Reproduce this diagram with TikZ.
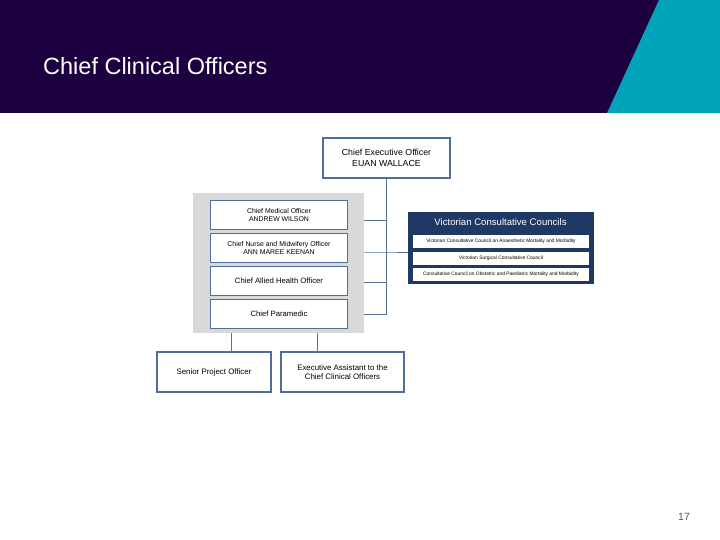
\documentclass[tikz,border=0pt]{standalone}
\usepackage{fontspec}
\setmainfont{Liberation Sans}
\definecolor{bandpurple}{HTML}{1C0040}
\definecolor{bandteal}{HTML}{00A3BA}
\definecolor{boxedge}{HTML}{4F6E98}
\definecolor{panelgray}{HTML}{D9D9D9}
\definecolor{navy}{HTML}{1F3864}
\definecolor{linegray}{HTML}{5A7290}
\begin{document}
\begin{tikzpicture}[x=1pt,y=-1pt,
  orgbox/.style={draw=boxedge,line width=1.6pt,fill=white,align=center,inner sep=0pt},
  councilbox/.style={draw=navy,line width=0.8pt,fill=white,inner sep=0pt,align=center,font=\fontsize{4.9}{5.5}\selectfont},
  link/.style={draw=linegray,line width=0.8pt}]
\useasboundingbox (0,0) rectangle (720,540);
\fill[white] (0,0) rectangle (720,540);
% header band
\fill[bandpurple] (0,0) rectangle (720,113);
\fill[bandteal] (659,0) -- (720,0) -- (720,113) -- (607,113) -- cycle;
\node[anchor=west,text=white,font=\fontsize{23.5}{28}\selectfont,inner sep=0pt] (title) at (43,66) {Chief Clinical Officers};
% CEO
\node[orgbox,minimum width=127pt,minimum height=40pt,font=\fontsize{8.8}{10.5}\selectfont] (ceo) at (386.5,158) {Chief Executive Officer\\EUAN WALLACE};
% gray panel
\node[fill=panelgray,minimum width=171pt,minimum height=140pt,inner sep=0pt] (panel) at (278.5,263) {};
\node[orgbox,minimum width=137pt,minimum height=29pt,font=\fontsize{6.9}{8}\selectfont] (cmo) at (279,215) {Chief Medical Officer\\ANDREW WILSON};
\node[orgbox,minimum width=137pt,minimum height=29pt,font=\fontsize{6.9}{8}\selectfont] (cnmo) at (279,248) {Chief Nurse and Midwifery Officer\\ANN MAREE KEENAN};
\node[orgbox,minimum width=137pt,minimum height=29pt,font=\fontsize{7.7}{9}\selectfont] (caho) at (279,281) {Chief Allied Health Officer};
\node[orgbox,minimum width=137pt,minimum height=29pt,font=\fontsize{7.7}{9}\selectfont] (cp) at (279,314) {Chief Paramedic};
% council box
\node[fill=navy,draw=navy,minimum width=185pt,minimum height=71pt,inner sep=0pt] (vcc) at (500.5,248) {};
\node[text=white,font=\fontsize{9.6}{11}\selectfont,inner sep=0pt] (vcchead) at (500.5,222) {Victorian Consultative Councils};
\node[councilbox,minimum width=177pt,minimum height=14pt] (c1) at (501,241) {Victorian Consultative Council on Anaesthetic Mortality and Morbidity};
\node[councilbox,minimum width=177pt,minimum height=14pt] (c2) at (501,258) {Victorian Surgical Consultative Council};
\node[councilbox,minimum width=177pt,minimum height=14pt] (c3) at (501,274.5) {Consultative Council on Obstetric and Paediatric Mortality and Morbidity};
% bottom boxes
\node[orgbox,minimum width=114pt,minimum height=40pt,font=\fontsize{7.9}{9.5}\selectfont] (spo) at (214,372) {Senior Project Officer};
\node[orgbox,minimum width=123pt,minimum height=40pt,font=\fontsize{7.9}{9.5}\selectfont] (ea) at (342.5,372) {Executive Assistant to the\\Chief Clinical Officers};
% page number
\node[text=black!65,font=\fontsize{10.5}{12}\selectfont,inner sep=0pt] (pagenum) at (684,517) {17};
% connectors
\coordinate (j1) at (386.5,220);
\coordinate (j2) at (386.5,252);
\coordinate (j3) at (386.5,282);
\coordinate (j4) at (386.5,314);
\coordinate (d1) at (231,352);
\coordinate (d2) at (317,352);
\draw[link] (ceo.south) -- (j4);
\draw[link] (panel.east |- j1) -- (j1);
\draw[link] (panel.east |- j2) -- (j2) -- (vcc.west |- j2);
\draw[link] (panel.east |- j3) -- (j3);
\draw[link] (panel.east |- j4) -- (j4);
\draw[link] (panel.south -| d1) -- (d1);
\draw[link] (panel.south -| d2) -- (d2);
\end{tikzpicture}
\end{document}
